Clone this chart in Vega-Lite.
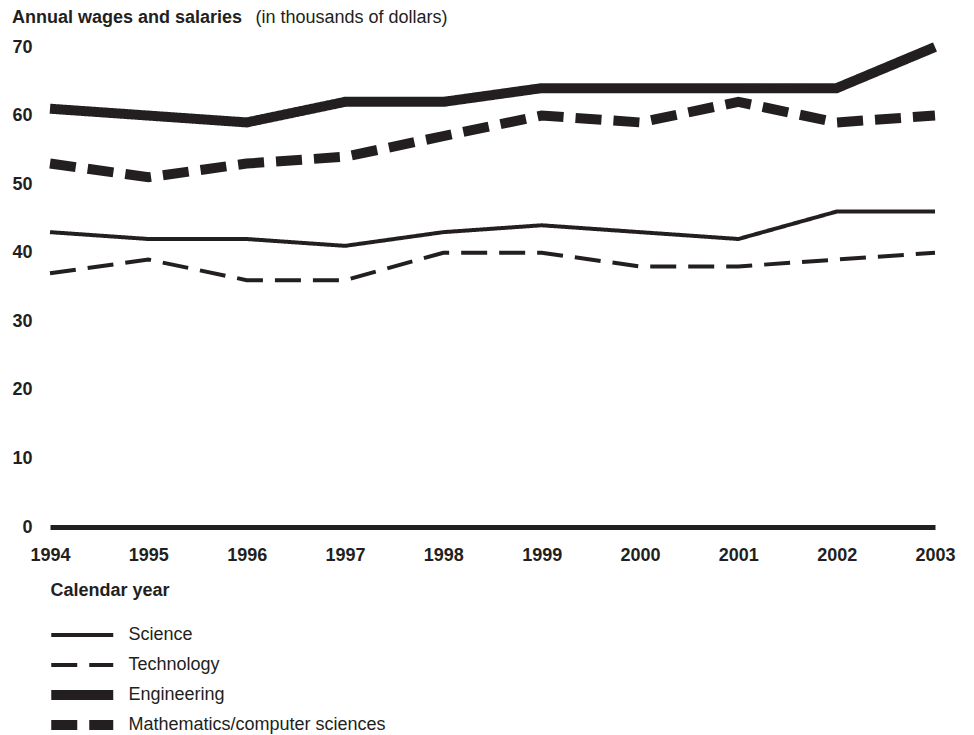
{
  "$schema": "https://vega.github.io/schema/vega-lite/v6.json",
  "width": 885,
  "height": 480,
  "autosize": "none",
  "padding": {"left": 50, "top": 47, "right": 39, "bottom": 208},
  "background": "white",
  "config": {
    "font": "Liberation Sans",
    "view": {"stroke": null},
    "axis": {"labelColor": "#231f20", "titleColor": "#231f20"}
  },
  "title": {
    "text": "Annual wages and salaries",
    "anchor": "start",
    "frame": "group",
    "fontSize": 18,
    "fontWeight": "bold",
    "color": "#231f20",
    "baseline": "alphabetic",
    "offset": 0,
    "dx": -38,
    "dy": 33
  },
  "data": {
    "values": [
      {"year": 1994, "series": "Science", "value": 43},
      {"year": 1995, "series": "Science", "value": 42},
      {"year": 1996, "series": "Science", "value": 42},
      {"year": 1997, "series": "Science", "value": 41},
      {"year": 1998, "series": "Science", "value": 43},
      {"year": 1999, "series": "Science", "value": 44},
      {"year": 2000, "series": "Science", "value": 43},
      {"year": 2001, "series": "Science", "value": 42},
      {"year": 2002, "series": "Science", "value": 46},
      {"year": 2003, "series": "Science", "value": 46},
      {"year": 1994, "series": "Technology", "value": 37},
      {"year": 1995, "series": "Technology", "value": 39},
      {"year": 1996, "series": "Technology", "value": 36},
      {"year": 1997, "series": "Technology", "value": 36},
      {"year": 1998, "series": "Technology", "value": 40},
      {"year": 1999, "series": "Technology", "value": 40},
      {"year": 2000, "series": "Technology", "value": 38},
      {"year": 2001, "series": "Technology", "value": 38},
      {"year": 2002, "series": "Technology", "value": 39},
      {"year": 2003, "series": "Technology", "value": 40},
      {"year": 1994, "series": "Engineering", "value": 61},
      {"year": 1995, "series": "Engineering", "value": 60},
      {"year": 1996, "series": "Engineering", "value": 59},
      {"year": 1997, "series": "Engineering", "value": 62},
      {"year": 1998, "series": "Engineering", "value": 62},
      {"year": 1999, "series": "Engineering", "value": 64},
      {"year": 2000, "series": "Engineering", "value": 64},
      {"year": 2001, "series": "Engineering", "value": 64},
      {"year": 2002, "series": "Engineering", "value": 64},
      {"year": 2003, "series": "Engineering", "value": 70},
      {"year": 1994, "series": "Mathematics/computer sciences", "value": 53},
      {"year": 1995, "series": "Mathematics/computer sciences", "value": 51},
      {"year": 1996, "series": "Mathematics/computer sciences", "value": 53},
      {"year": 1997, "series": "Mathematics/computer sciences", "value": 54},
      {"year": 1998, "series": "Mathematics/computer sciences", "value": 57},
      {"year": 1999, "series": "Mathematics/computer sciences", "value": 60},
      {"year": 2000, "series": "Mathematics/computer sciences", "value": 59},
      {"year": 2001, "series": "Mathematics/computer sciences", "value": 62},
      {"year": 2002, "series": "Mathematics/computer sciences", "value": 59},
      {"year": 2003, "series": "Mathematics/computer sciences", "value": 60}
    ]
  },
  "mark": {"type": "line", "color": "#231f20", "strokeCap": "butt", "strokeJoin": "miter", "clip": false},
  "encoding": {
    "x": {
      "field": "year",
      "type": "quantitative",
      "scale": {"domain": [1994, 2003], "nice": false, "zero": false},
      "axis": {
        "values": [1994, 1995, 1996, 1997, 1998, 1999, 2000, 2001, 2002, 2003],
        "format": "d",
        "grid": false,
        "ticks": false,
        "domain": true,
        "domainColor": "#231f20",
        "domainWidth": 5,
        "labelFontSize": 18,
        "labelFontWeight": "bold",
        "labelPadding": 19,
        "labelFlush": false,
        "labelOverlap": false,
        "title": "Calendar year",
        "titleFontSize": 18,
        "titleFontWeight": "bold",
        "titleAnchor": "start",
        "titleAlign": "left",
        "titleBaseline": "alphabetic",
        "titleX": 0,
        "titleY": 68
      }
    },
    "y": {
      "field": "value",
      "type": "quantitative",
      "scale": {"domain": [0, 70], "nice": false},
      "axis": {
        "values": [0, 10, 20, 30, 40, 50, 60, 70],
        "grid": false,
        "ticks": false,
        "domain": false,
        "labelFontSize": 18,
        "labelFontWeight": "bold",
        "labelPadding": 18,
        "title": "(in thousands of dollars)",
        "titleFontSize": 18,
        "titleFontWeight": "normal",
        "titleAngle": 0,
        "titleAlign": "left",
        "titleBaseline": "alphabetic",
        "titleX": 205,
        "titleY": -25
      }
    },
    "detail": {"field": "series"},
    "strokeDash": {
      "field": "series",
      "type": "nominal",
      "scale": {
        "domain": ["Science", "Technology", "Engineering", "Mathematics/computer sciences"],
        "range": [[1, 0], [26, 12], [1, 0], [26, 12]]
      },
      "legend": {
        "title": null,
        "orient": "none",
        "legendX": 0,
        "legendY": 579,
        "direction": "vertical",
        "symbolType": "M-1,0H7",
        "symbolSize": 240.25,
        "symbolStrokeColor": "#231f20",
        "symbolFillColor": "transparent",
        "clipHeight": 18,
        "rowPadding": 12,
        "labelFontSize": 18,
        "labelLimit": 500,
        "labelColor": "#231f20",
        "labelOffset": 60.5,
        "encode": {
          "symbols": {
            "update": {
              "strokeWidth": {"signal": "datum.value === 'Engineering' || datum.value === 'Mathematics/computer sciences' ? 10 : 4"}
            }
          }
        }
      }
    },
    "strokeWidth": {
      "condition": {"test": "datum.series === 'Engineering' || datum.series === 'Mathematics/computer sciences'", "value": 10},
      "value": 4
    }
  }
}
